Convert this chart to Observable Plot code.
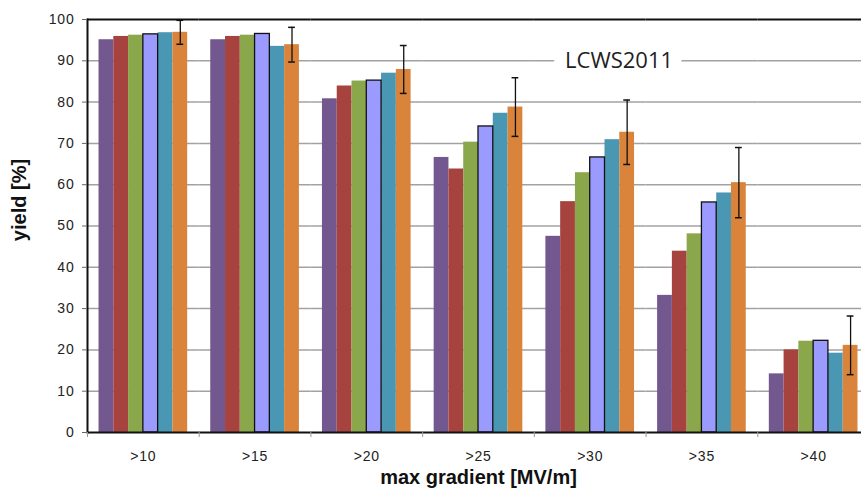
<!DOCTYPE html>
<html>
<head>
<meta charset="utf-8">
<script src="https://cdn.jsdelivr.net/npm/d3@7"></script>
<script src="https://cdn.jsdelivr.net/npm/@observablehq/plot@0.6"></script>
<style>
  html, body { margin: 0; padding: 0; background: #fff; overflow: hidden; width: 861px; height: 488px; }
  #chart { width: 861px; height: 488px; overflow: hidden; }
  #chart svg { max-width: none !important; }
  .tick-text text { letter-spacing: 0.8px; }
</style>
</head>
<body>
<div id="chart"></div>
<script>
// ---- data ----
const categories = [">10", ">15", ">20", ">25", ">30", ">35", ">40"];
const seriesNames = ["Series 1", "Series 2", "Series 3", "Series 4", "Series 5", "Series 6"];
const series1 = [95.1, 95.1, 80.8, 66.6, 47.5, 33.2, 14.2];
const series2 = [95.9, 95.9, 83.9, 63.8, 55.9, 43.9, 20.0];
const series3 = [96.2, 96.2, 85.1, 70.3, 62.9, 48.1, 22.1];
const series4 = [96.4, 96.5, 85.2, 74.1, 66.6, 55.7, 22.2];
const series5 = [96.8, 93.5, 87.0, 77.3, 70.9, 58.0, 19.2];
const series6 = [96.9, 93.9, 87.9, 78.8, 72.7, 60.5, 21.1];
const series6Errors = [2.9, 4.2, 5.8, 7.1, 7.8, 8.5, 7.1];
const seriesColors = ["#72588f", "#a7433f", "#8aa74c", "#9b9bff", "#4a97b3", "#d9843a"];
const yTicks = [0, 10, 20, 30, 40, 50, 60, 70, 80, 90, 100];
const gridValues = [10, 20, 30, 40, 50, 60, 70, 80, 90];
const xLabel = "max gradient [MV/m]";
const yLabel = "yield [%]";
const annotation = [{cat: ">35", y: 90, label: "LCWS2011"}];

// ---- tables ----
const seriesValues = [series1, series2, series3, series4, series5, series6];
const data = categories.flatMap((c, i) =>
  seriesNames.map((s, j) => ({cat: c, series: s, value: seriesValues[j][i]})));
const outlinedSeries = seriesNames[3];
const errSeries = seriesNames[5];
const errData = categories.map((c, i) => ({
  cat: c, series: errSeries,
  lo: series6[i] - series6Errors[i], hi: series6[i] + series6Errors[i]
}));

const W = 880, ML = 87, MR = 11;
const facetStep = (W - ML - MR) / categories.length;

const chart = Plot.plot({
  width: W, height: 488,
  marginLeft: ML, marginRight: MR, marginTop: 19, marginBottom: 56,
  style: {fontFamily: "Liberation Sans, Arial, sans-serif", fontSize: "14px", color: "#222", background: "white", maxWidth: "none"},
  fx: {domain: categories, padding: 0, round: false, axis: null, label: null},
  x: {domain: seriesNames, paddingInner: 0, paddingOuter: 0.78, round: false, axis: null},
  y: {domain: [0, 100], axis: null},
  color: {domain: seriesNames, range: seriesColors},
  marks: [
    Plot.ruleY(gridValues, {stroke: "#a2a2a2", strokeWidth: 1.5}),
    Plot.ruleY([100], {stroke: "#111", strokeWidth: 2}),
    Plot.barY(data, {fx: "cat", x: "series", y: "value", fill: "series"}),
    Plot.barY(data.filter(d => d.series === outlinedSeries),
      {fx: "cat", x: "series", y: "value", fill: "series", stroke: "#111", strokeWidth: 1.3}),
    Plot.ruleX(errData, {fx: "cat", x: "series", y1: "lo", y2: "hi", stroke: "#111", strokeWidth: 1.3}),
    Plot.tickY(errData, {fx: "cat", x: "series", y: "lo", stroke: "#111", strokeWidth: 1.5, insetLeft: 4, insetRight: 4}),
    Plot.tickY(errData, {fx: "cat", x: "series", y: "hi", stroke: "#111", strokeWidth: 1.5, insetLeft: 4, insetRight: 4}),
    Plot.ruleY([0], {stroke: "#111", strokeWidth: 2}),
    Plot.frame({anchor: "left", facetAnchor: "left", stroke: "#111", strokeWidth: 2}),
    Plot.axisY({ticks: yTicks, tickSize: 5, tickPadding: 8, label: null, stroke: "#666", className: "tick-text"}),
    Plot.axisFx({anchor: "bottom", tickSize: 0, tickPadding: 19, label: null, className: "tick-text"}),
    Plot.axisFx({anchor: "bottom", tickSize: 5, tickFormat: () => "", label: null, dx: -facetStep / 2, stroke: "#999"}),
    Plot.text(annotation, {fx: "cat", y: "y", text: "label", frameAnchor: "left", textAnchor: "middle",
      dx: -27, fontFamily: "Open Sans, sans-serif", fontSize: 22, fill: "#222",
      stroke: "white", strokeWidth: 26}),
    Plot.text([yLabel], {fx: () => categories[0], text: d => d, frameAnchor: "left", rotate: -90,
      textAnchor: "middle", dx: -68, dy: -26, fontSize: 20, fontWeight: "bold", fill: "#111"}),
    Plot.text([xLabel], {fx: () => categories[3], text: d => d, frameAnchor: "bottom", textAnchor: "middle",
      lineAnchor: "middle", dy: 45, fontSize: 20, fontWeight: "bold", fill: "#111",
      style: "letter-spacing: 2px"})
  ]
});
document.getElementById("chart").appendChild(chart);
</script>
</body>
</html>
